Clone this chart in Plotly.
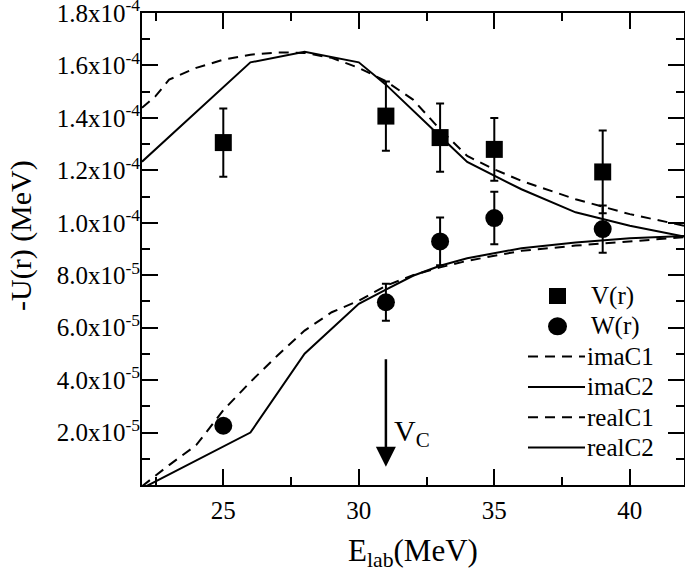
import plotly.graph_objects as go

# ---- data ----
exp_energy_V = [25, 31, 33, 35, 39]
V_vals = [1.306e-4, 1.407e-4, 1.325e-4, 1.280e-4, 1.194e-4]
V_err = [0.130e-4, 0.132e-4, 0.130e-4, 0.120e-4, 0.158e-4]

exp_energy_W = [25, 31, 33, 35, 39]
W_vals = [0.226e-4, 0.697e-4, 0.929e-4, 1.018e-4, 0.976e-4]
W_err = [0.0, 0.071e-4, 0.091e-4, 0.100e-4, 0.090e-4]

# real parts (upper curves)
realC1_x = [22, 22.5, 23, 24, 25, 26, 27, 28, 29, 30, 31, 32, 33, 34, 35, 36, 38, 40, 42]
realC1_y = [1.439e-4, 1.483e-4, 1.546e-4, 1.591e-4, 1.622e-4, 1.641e-4, 1.650e-4, 1.648e-4,
            1.629e-4, 1.591e-4, 1.540e-4, 1.470e-4, 1.356e-4, 1.255e-4, 1.204e-4, 1.160e-4,
            1.090e-4, 1.033e-4, 0.989e-4]
realC2_x = [22, 24, 26, 28, 30, 31, 32, 33, 34, 36, 38, 40, 42]
realC2_y = [1.233e-4, 1.4225e-4, 1.612e-4, 1.652e-4, 1.612e-4, 1.527e-4, 1.430e-4, 1.330e-4,
            1.232e-4, 1.128e-4, 1.040e-4, 0.989e-4, 0.948e-4]

# imaginary parts (lower curves)
imaC1_x = [22, 23, 24, 25, 26, 27, 28, 29, 30, 31, 32, 33, 34, 36, 38, 40, 42]
imaC1_y = [-0.005e-4, 0.076e-4, 0.152e-4, 0.285e-4, 0.393e-4, 0.494e-4, 0.589e-4, 0.659e-4,
           0.703e-4, 0.760e-4, 0.800e-4, 0.830e-4, 0.855e-4, 0.893e-4, 0.913e-4, 0.928e-4, 0.945e-4]
imaC2_x = [22, 26, 28, 30, 31, 32, 33, 34, 36, 38, 40, 42]
imaC2_y = [-0.013e-4, 0.200e-4, 0.501e-4, 0.691e-4, 0.745e-4, 0.798e-4, 0.836e-4, 0.865e-4,
           0.903e-4, 0.925e-4, 0.941e-4, 0.950e-4]

x_range = [22, 42]
y_range = [0, 1.8002e-4]
x_ticks = [25, 30, 35, 40]
y_tickvals = [2e-5, 4e-5, 6e-5, 8e-5, 1e-4, 1.2e-4, 1.4e-4, 1.6e-4, 1.8e-4]
y_ticktext = ["2.0x10<sup>-5</sup>", "4.0x10<sup>-5</sup>", "6.0x10<sup>-5</sup>",
              "8.0x10<sup>-5</sup>", "1.0x10<sup>-4</sup>", "1.2x10<sup>-4</sup>",
              "1.4x10<sup>-4</sup>", "1.6x10<sup>-4</sup>", "1.8x10<sup>-4</sup>"]

VC_energy = 31
VC_arrow_top = 0.485e-4
VC_arrow_tip = 0.07e-4

legend_labels = ["V(r)", "W(r)", "imaC1", "imaC2", "realC1", "realC2"]

FONT = "Liberation Serif"
BLACK = "black"
DASH = "10px,7px"

fig = go.Figure()

fig.add_trace(go.Scatter(x=realC1_x, y=realC1_y, mode="lines",
                         line=dict(color=BLACK, width=2, dash=DASH), showlegend=False))
fig.add_trace(go.Scatter(x=realC2_x, y=realC2_y, mode="lines",
                         line=dict(color=BLACK, width=2), showlegend=False))
fig.add_trace(go.Scatter(x=imaC1_x, y=imaC1_y, mode="lines",
                         line=dict(color=BLACK, width=2, dash=DASH), showlegend=False))
fig.add_trace(go.Scatter(x=imaC2_x, y=imaC2_y, mode="lines",
                         line=dict(color=BLACK, width=2), showlegend=False))

fig.add_trace(go.Scatter(x=exp_energy_V, y=V_vals, mode="markers",
                         marker=dict(symbol="square", size=17, color=BLACK),
                         error_y=dict(type="data", array=V_err, color=BLACK, thickness=2, width=4),
                         showlegend=False))
fig.add_trace(go.Scatter(x=exp_energy_W, y=W_vals, mode="markers",
                         marker=dict(symbol="circle", size=18, color=BLACK),
                         error_y=dict(type="data", array=W_err, color=BLACK, thickness=2, width=4),
                         showlegend=False))

# V_C arrow
fig.add_annotation(x=VC_energy, y=VC_arrow_tip, ax=VC_energy, ay=VC_arrow_top,
                   xref="x", yref="y", axref="x", ayref="y", text="",
                   showarrow=True, arrowhead=2, arrowsize=1.6, arrowwidth=2.5, arrowcolor=BLACK)
fig.add_annotation(x=VC_energy, y=0.20e-4, xref="x", yref="y", xanchor="left", yanchor="middle",
                   xshift=6, text="V<sub>C</sub>", showarrow=False,
                   font=dict(family=FONT, size=30, color=BLACK))

W_PX, H_PX = 685, 576
L, T, B, R = 142, 13, 91, 1
pw = W_PX - L - R
ph = H_PX - T - B

def px_to_paper(px, py):
    return (px - L) / pw, 1 - (py - T) / ph

# y-axis title
yt_x, yt_y = px_to_paper(21, 236)
fig.add_annotation(x=yt_x, y=yt_y, xref="paper", yref="paper", xanchor="center", yanchor="middle",
                   text="-U(r) (MeV)", textangle=-90, showarrow=False,
                   font=dict(family=FONT, size=30, color=BLACK))

# manual legend (paper coordinates)
row_y0 = 296
row_dy = 30.3
for i, lab in enumerate(legend_labels):
    py = row_y0 + i * row_dy
    tx = 589 if i < 2 else 585
    xp, yp = px_to_paper(tx, py)
    fig.add_annotation(x=xp, y=yp, xref="paper", yref="paper", xanchor="left", yanchor="middle",
                       text=lab, showarrow=False, font=dict(family=FONT, size=25, color=BLACK))
    if i == 0:
        x0, y0 = px_to_paper(549, py - 8)
        x1, y1 = px_to_paper(566, py + 8)
        fig.add_shape(type="rect", xref="paper", yref="paper", x0=x0, y0=y0, x1=x1, y1=y1,
                      fillcolor=BLACK, line=dict(width=0))
    elif i == 1:
        x0, y0 = px_to_paper(548, py - 9)
        x1, y1 = px_to_paper(567, py + 9)
        fig.add_shape(type="circle", xref="paper", yref="paper", x0=x0, y0=y0, x1=x1, y1=y1,
                      fillcolor=BLACK, line=dict(width=0))
    else:
        x0, y0 = px_to_paper(528, py)
        x1, _ = px_to_paper(585, py)
        dash = DASH if i in (2, 4) else "solid"
        fig.add_shape(type="line", xref="paper", yref="paper", x0=x0, y0=y0, x1=x1, y1=y0,
                      line=dict(color=BLACK, width=2, dash=dash))

axis_common = dict(showgrid=False, zeroline=False, showline=True, linecolor=BLACK, linewidth=2,
                   mirror="allticks", ticks="inside", ticklen=16, tickwidth=2, tickcolor=BLACK,
                   automargin=False, ticklabeloverflow="allow",
                   tickfont=dict(family=FONT, size=25, color=BLACK))

fig.update_xaxes(range=x_range, tickvals=x_ticks, **axis_common, ticklabelstandoff=2,
                 minor=dict(ticks="inside", ticklen=8, tickwidth=2, tickcolor=BLACK, dtick=2.5, tick0=22.5),
                 title=dict(text="E<sub>lab</sub>(MeV)", font=dict(family=FONT, size=31, color=BLACK),
                            standoff=16))
fig.update_yaxes(range=y_range, tickvals=y_tickvals, ticktext=y_ticktext, **axis_common,
                 ticklabelstandoff=-5,
                 minor=dict(ticks="inside", ticklen=8, tickwidth=2, tickcolor=BLACK, dtick=1e-5, tick0=0))

fig.update_layout(width=W_PX, height=H_PX, margin=dict(l=L, r=R, t=T, b=B, autoexpand=False),
                  plot_bgcolor="white", paper_bgcolor="white", showlegend=False,
                  font=dict(family=FONT, color=BLACK))

fig.write_html("out.html", config={"displayModeBar": False},
               post_script="document.body.style.margin='0';")
